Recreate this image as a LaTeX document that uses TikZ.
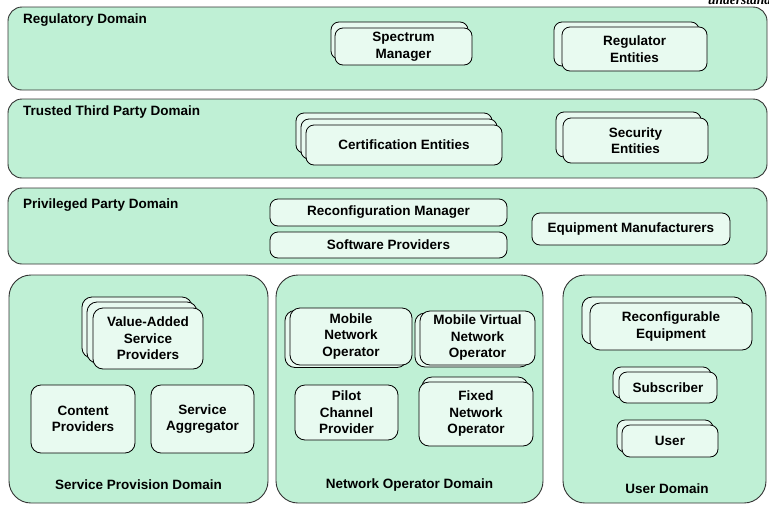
\documentclass[tikz,border=0pt]{standalone}
\usepackage{fontspec}
\setmainfont{Liberation Sans}
\newfontfamily\cutserif{Liberation Serif}
\newcommand\dgfont{\fontsize{13.5}{16.5}\selectfont\bfseries}
\definecolor{domfill}{HTML}{BFF0D5}
\definecolor{entfill}{HTML}{E8FAF0}
\definecolor{domline}{HTML}{333333}
\tikzset{
  dom/.style={draw=domline, fill=domfill, rounded corners=14pt, line width=0.9pt, inner sep=0pt},
  domb/.style={dom, rounded corners=22pt},
  ent/.style={draw=black, fill=entfill, rounded corners=8pt, line width=0.8pt, inner sep=0pt, align=center, font=\dgfont},
  entb/.style={ent, rounded corners=10pt},
  lbl/.style={font=\dgfont, inner sep=0pt},
}
\begin{document}
\begin{tikzpicture}[x=1pt,y=-1pt]
\useasboundingbox (0,0) rectangle (769,504);
% partial text at the top edge
\node[anchor=base west, inner sep=0pt, font=\fontsize{13.5}{16}\selectfont\cutserif\bfseries\itshape] (cut) at (708,4) {understand};
% ---------- domains ----------
\node[dom, minimum width=759pt, minimum height=83pt] (reg) at (387.5,48.5) {};
\node[dom, minimum width=759pt, minimum height=79pt] (ttp) at (387.5,138.5) {};
\node[dom, minimum width=759pt, minimum height=76pt] (ppd) at (387.5,226) {};
\node[domb, minimum width=259pt, minimum height=228pt] (spd) at (138.5,389) {};
\node[domb, minimum width=267pt, minimum height=228pt] (nod) at (409.5,389) {};
\node[domb, minimum width=203pt, minimum height=228pt] (usd) at (664.5,389) {};
% domain labels
\node[lbl, anchor=west] (regl) at (23,20) {Regulatory Domain};
\node[lbl, anchor=west] (ttpl) at (23,112) {Trusted Third Party Domain};
\node[lbl, anchor=west] (ppdl) at (23,205) {Privileged Party Domain};
\node[lbl] (spdl) at (138.5,485) {Service Provision Domain};
\node[lbl] (nodl) at (409.5,485) {Network Operator Domain};
\node[lbl] (usdl) at (667,489) {User Domain};
% ---------- regulatory ----------
\node[ent, minimum width=137pt, minimum height=37pt] (spmb) at (399.5,40.5) {};
\node[ent, minimum width=137pt, minimum height=37pt] (spm) at (403.5,46.5) {Spectrum\\Manager};
\node[ent, minimum width=145pt, minimum height=44pt] (regeb) at (626.5,44) {};
\node[ent, minimum width=145pt, minimum height=44pt] (rege) at (634.5,49) {Regulator\\Entities};
% ---------- trusted third party ----------
\node[ent, minimum width=196pt, minimum height=40pt] (cer1) at (394,133) {};
\node[ent, minimum width=196pt, minimum height=40pt] (cer2) at (399,139) {};
\node[ent, minimum width=196pt, minimum height=40pt] (cer) at (404,145) {Certification Entities};
\node[ent, minimum width=145pt, minimum height=45pt] (secb) at (628.5,134.5) {};
\node[ent, minimum width=145pt, minimum height=45pt] (sec) at (635.5,140.5) {Security\\Entities};
% ---------- privileged party ----------
\node[ent, minimum width=237pt, minimum height=27pt] (rcm) at (388.5,212.5) {Reconfiguration Manager};
\node[ent, minimum width=237pt, minimum height=26pt] (swp) at (388.5,245) {Software Providers};
\node[ent, minimum width=198pt, minimum height=32pt] (eqm) at (631,229) {Equipment Manufacturers};
% ---------- service provision ----------
\node[entb, minimum width=110pt, minimum height=61pt] (vas1) at (137,327.5) {};
\node[entb, minimum width=110pt, minimum height=61pt] (vas2) at (142,332.5) {};
\node[entb, minimum width=110pt, minimum height=61pt] (vas) at (148,338.5) {Value-Added\\Service\\Providers};
\node[entb, minimum width=104pt, minimum height=68pt] (cnt) at (83,419) {Content\\Providers};
\node[entb, minimum width=103pt, minimum height=68pt] (agg) at (202.5,419) {Service\\Aggregator};
% ---------- network operator ----------
\node[entb, minimum width=122pt, minimum height=57pt] (mnob) at (346,339) {};
\node[entb, minimum width=122pt, minimum height=57pt] (mno) at (351,336.5) {Mobile\\Network\\Operator};
\node[entb, minimum width=115pt, minimum height=54pt] (mvnob) at (472.5,340) {};
\node[entb, minimum width=115pt, minimum height=54pt] (mvno) at (477.5,338) {Mobile Virtual\\Network\\Operator};
\node[entb, minimum width=103pt, minimum height=55pt] (pcp) at (346.5,412.5) {Pilot\\Channel\\Provider};
\node[entb, minimum width=106pt, minimum height=64pt] (fnob) at (475,409) {};
\node[entb, minimum width=114pt, minimum height=64pt] (fno) at (476,414) {Fixed\\Network\\Operator};
% ---------- user ----------
\node[entb, minimum width=162pt, minimum height=47pt] (rceb) at (663,320.5) {};
\node[entb, minimum width=162pt, minimum height=47pt] (rce) at (671,326.5) {Reconfigurable\\Equipment};
\node[ent, minimum width=98pt, minimum height=31pt] (subb) at (662,382.5) {};
\node[ent, minimum width=98pt, minimum height=31pt] (sub) at (668,387.5) {Subscriber};
\node[ent, minimum width=96pt, minimum height=32pt] (usrb) at (665,436) {};
\node[ent, minimum width=96pt, minimum height=32pt] (usr) at (670,441) {User};
\end{tikzpicture}
\end{document}
